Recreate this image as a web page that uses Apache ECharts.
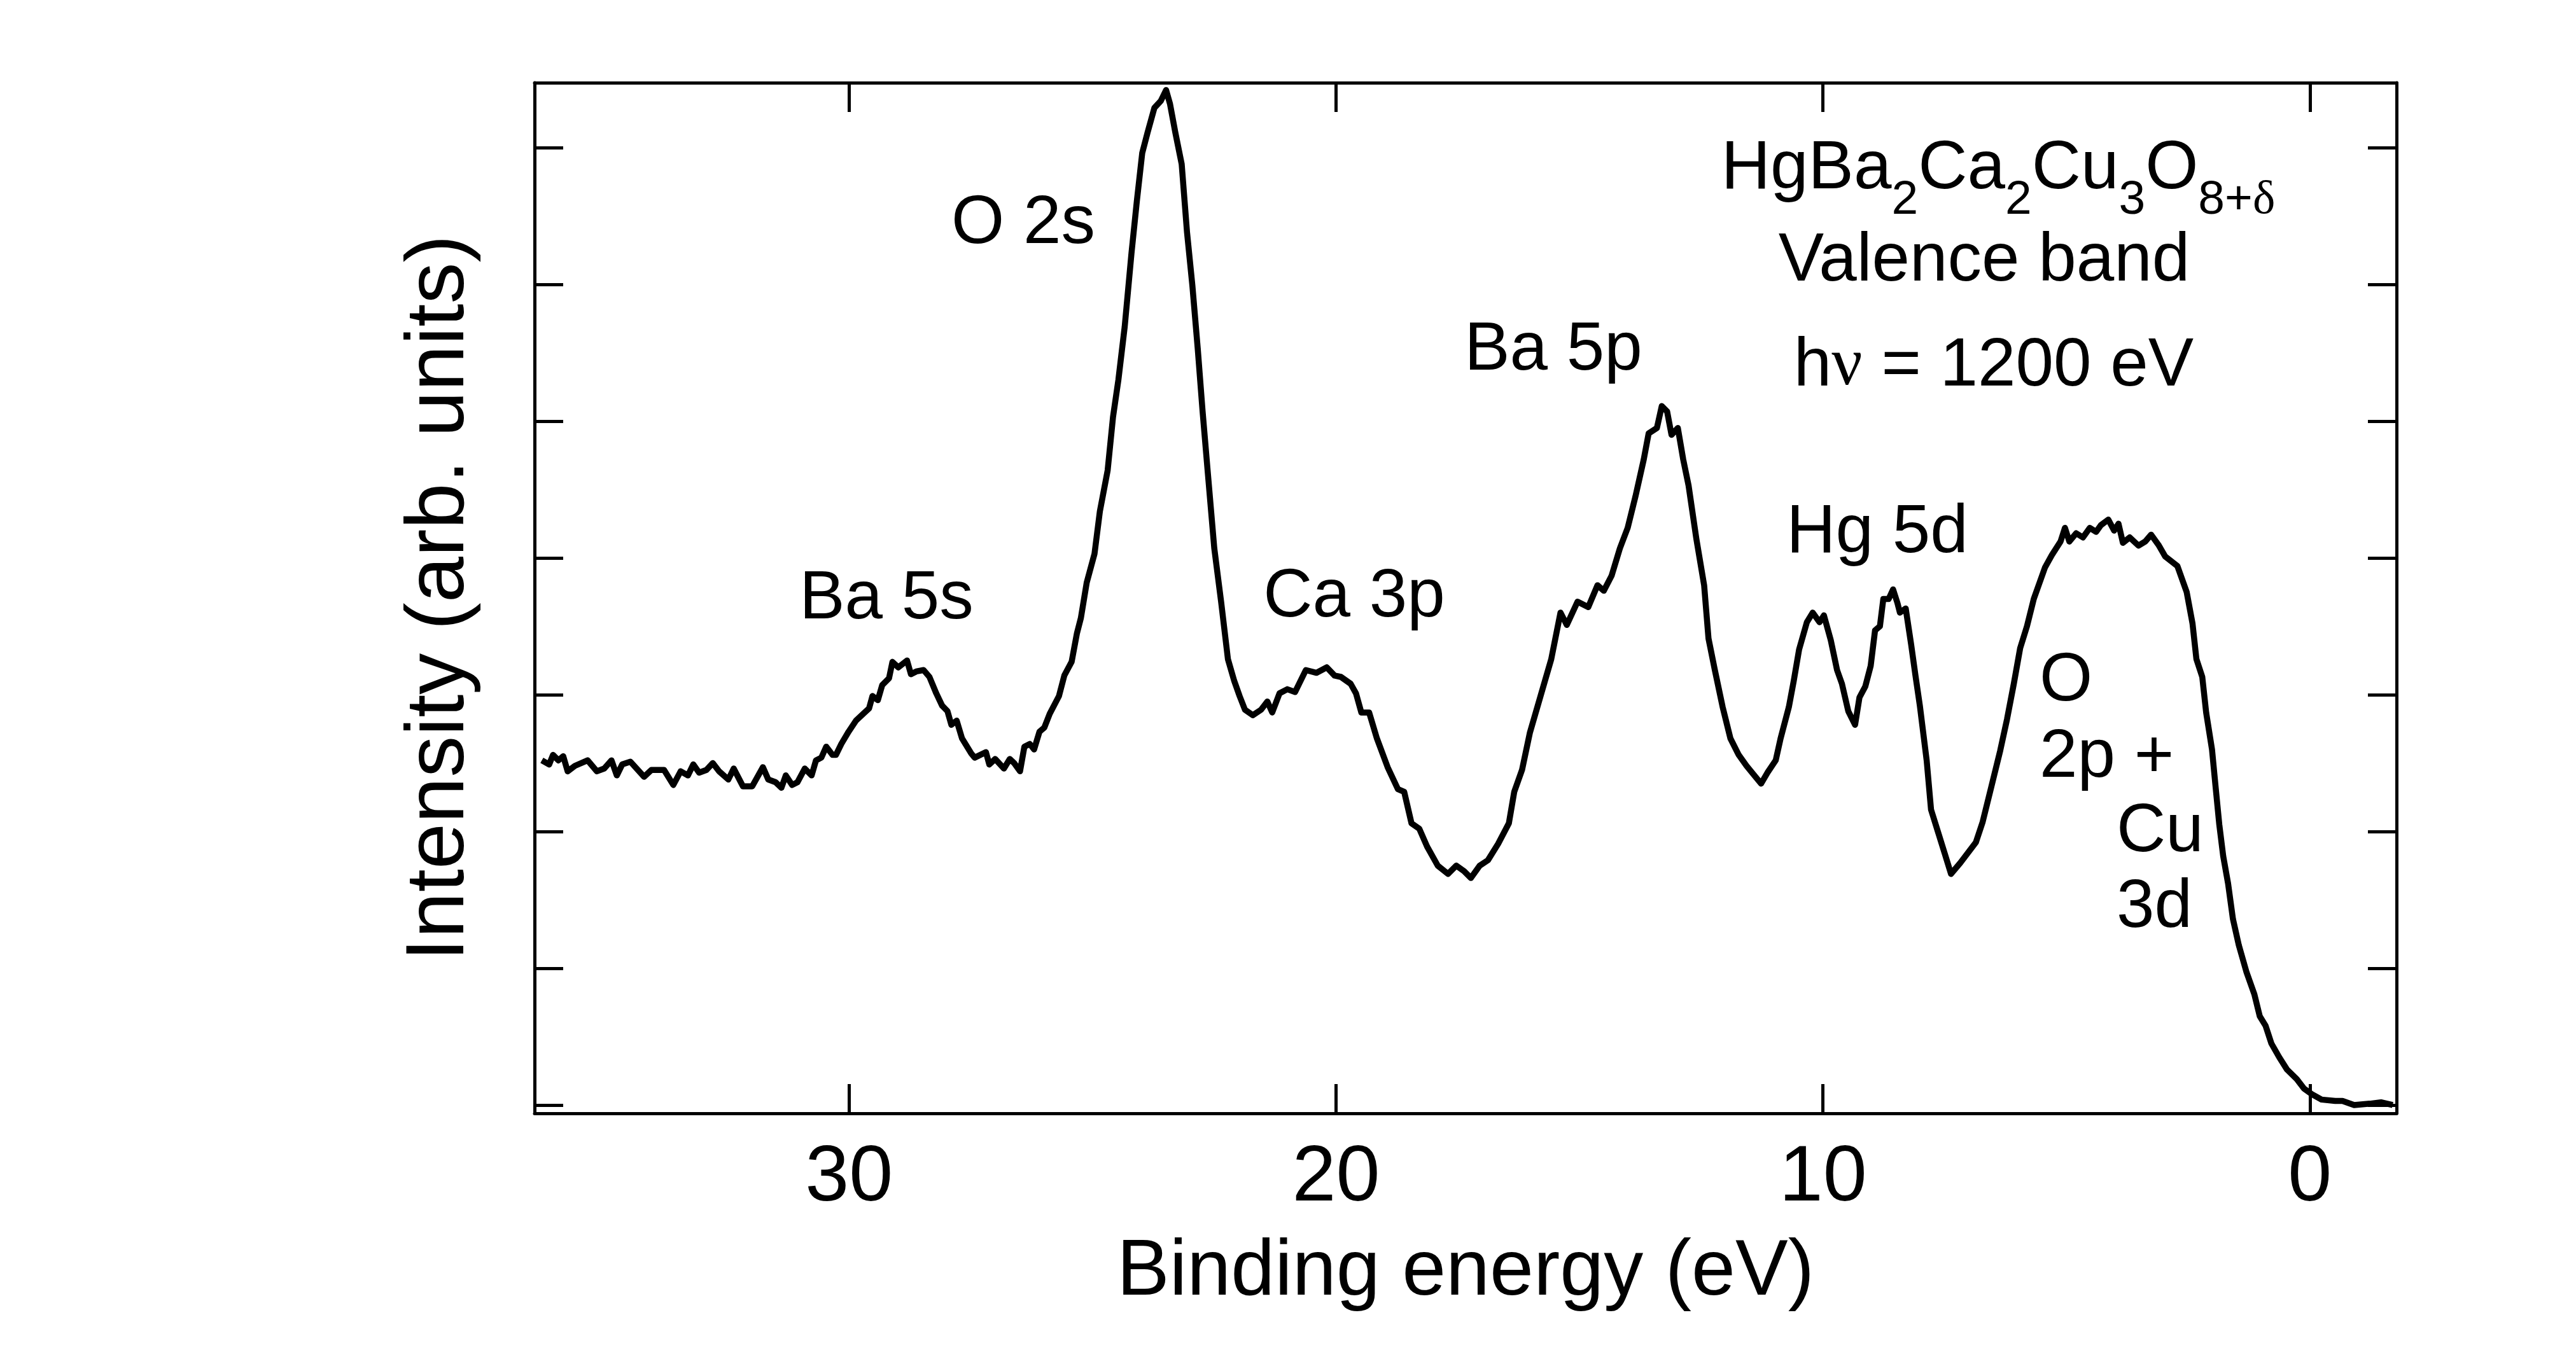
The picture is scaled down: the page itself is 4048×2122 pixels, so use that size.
<!DOCTYPE html>
<html>
<head>
<meta charset="utf-8">
<title>HgBa2Ca2Cu3O8+d valence band</title>
<script src="https://cdn.jsdelivr.net/npm/echarts@6/dist/echarts.min.js"></script>
<style>
    html, body {margin: 0; padding: 0; background: #fff;}
    #chart {width: 4048px; height: 2122px;}
</style>
</head>
<body>
<div id="chart"></div>
<script>
var energy = [
    36.31, 36.16, 36.08, 35.97, 35.87, 35.78, 35.63, 35.37, 35.18, 35.03,
    34.88, 34.77, 34.66, 34.49, 34.21, 34.06, 33.80, 33.61, 33.46, 33.31,
    33.20, 33.08, 32.93, 32.80, 32.67, 32.48, 32.37, 32.18, 31.99, 31.77,
    31.66, 31.51, 31.39, 31.30, 31.17, 31.06, 30.91, 30.77, 30.68, 30.57,
    30.47, 30.34, 30.27, 30.16, 30.01, 29.86, 29.71, 29.59, 29.52, 29.41,
    29.32, 29.18, 29.11, 28.99, 28.81, 28.73, 28.62, 28.47, 28.35, 28.21,
    28.09, 27.98, 27.90, 27.79, 27.68, 27.49, 27.42, 27.19, 27.12, 27.00,
    26.82, 26.70, 26.61, 26.49, 26.40, 26.29, 26.20, 26.09, 25.99, 25.88,
    25.69, 25.58, 25.43, 25.32, 25.24, 25.12, 24.96, 24.85, 24.69, 24.58,
    24.47, 24.34, 24.20, 24.09, 23.98, 23.87, 23.73, 23.60, 23.49, 23.41,
    23.30, 23.17, 23.06, 22.95, 22.84, 22.74, 22.63, 22.50, 22.36, 22.22,
    22.09, 21.98, 21.87, 21.71, 21.54, 21.41, 21.31, 21.16, 21.00, 20.84,
    20.62, 20.40, 20.19, 20.03, 19.90, 19.70, 19.59, 19.48, 19.32, 19.16,
    18.94, 18.73, 18.60, 18.45, 18.29, 18.13, 17.91, 17.70, 17.53, 17.37,
    17.23, 17.05, 16.88, 16.67, 16.45, 16.34, 16.18, 16.02, 15.80, 15.58,
    15.39, 15.26, 15.04, 14.82, 14.63, 14.50, 14.34, 14.17, 14.01, 13.85,
    13.68, 13.58, 13.41, 13.31, 13.20, 13.11, 12.98, 12.87, 12.76, 12.60,
    12.44, 12.35, 12.22, 12.06, 11.90, 11.73, 11.57, 11.41, 11.27, 11.14,
    10.97, 10.87, 10.70, 10.60, 10.49, 10.33, 10.21, 10.07, 9.98, 9.84,
    9.71, 9.61, 9.48, 9.34, 9.25, 9.13, 9.02, 8.93, 8.83, 8.76,
    8.65, 8.56, 8.47, 8.42, 8.30, 8.19, 8.10, 8.01, 7.87, 7.78,
    7.64, 7.50, 7.37, 7.18, 6.86, 6.72, 6.54, 6.36, 6.22, 6.08,
    5.95, 5.81, 5.67, 5.44, 5.30, 5.12, 5.03, 4.94, 4.80, 4.66,
    4.52, 4.39, 4.29, 4.14, 4.02, 3.93, 3.84, 3.70, 3.52, 3.38,
    3.26, 3.10, 2.97, 2.72, 2.53, 2.41, 2.33, 2.21, 2.13, 2.01,
    1.94, 1.86, 1.78, 1.68, 1.58, 1.46, 1.30, 1.14, 1.03, 0.91,
    0.79, 0.63, 0.47, 0.27, 0.12, -0.04, -0.24, -0.52, -0.67, -0.91,
    -1.23, -1.46, -1.70
];
// intensity (arb. units, one unit per tick)
var intensity = [
    2.52, 2.49, 2.56, 2.52, 2.55, 2.44, 2.48, 2.52, 2.44, 2.46,
    2.52, 2.41, 2.49, 2.51, 2.40, 2.45, 2.45, 2.34, 2.44, 2.41,
    2.49, 2.43, 2.45, 2.50, 2.44, 2.38, 2.46, 2.33, 2.33, 2.47,
    2.38, 2.36, 2.32, 2.41, 2.34, 2.36, 2.46, 2.41, 2.52, 2.54,
    2.62, 2.56, 2.56, 2.64, 2.73, 2.81, 2.86, 2.90, 2.99, 2.96,
    3.07, 3.12, 3.24, 3.20, 3.25, 3.15, 3.17, 3.18, 3.13, 3.01,
    2.92, 2.88, 2.78, 2.81, 2.68, 2.57, 2.54, 2.58, 2.49, 2.53,
    2.46, 2.53, 2.50, 2.44, 2.62, 2.64, 2.60, 2.73, 2.76, 2.86,
    2.99, 3.14, 3.24, 3.45, 3.56, 3.82, 4.03, 4.34, 4.64, 5.03,
    5.30, 5.69, 6.23, 6.61, 6.96, 7.11, 7.29, 7.34, 7.42, 7.32,
    7.11, 6.88, 6.38, 5.99, 5.53, 5.07, 4.61, 4.07, 3.68, 3.26,
    3.10, 2.99, 2.89, 2.85, 2.89, 2.95, 2.87, 3.01, 3.04, 3.02,
    3.18, 3.16, 3.20, 3.14, 3.13, 3.08, 3.01, 2.87, 2.87, 2.68,
    2.47, 2.31, 2.29, 2.06, 2.02, 1.89, 1.75, 1.69, 1.75, 1.71,
    1.66, 1.75, 1.79, 1.91, 2.06, 2.29, 2.45, 2.72, 2.99, 3.26,
    3.60, 3.51, 3.68, 3.64, 3.80, 3.76, 3.87, 4.07, 4.22, 4.45,
    4.72, 4.91, 4.95, 5.11, 5.07, 4.90, 4.95, 4.72, 4.53, 4.14,
    3.80, 3.41, 3.18, 2.91, 2.68, 2.56, 2.48, 2.41, 2.35, 2.43,
    2.52, 2.68, 2.91, 3.10, 3.33, 3.53, 3.60, 3.53, 3.58, 3.40,
    3.18, 3.08, 2.88, 2.78, 2.98, 3.06, 3.21, 3.47, 3.50, 3.70,
    3.70, 3.77, 3.67, 3.60, 3.63, 3.37, 3.14, 2.92, 2.52, 2.16,
    2.00, 1.84, 1.69, 1.77, 1.92, 2.07, 2.33, 2.59, 2.82, 3.08,
    3.34, 3.50, 3.70, 3.93, 4.02, 4.12, 4.22, 4.12, 4.18, 4.15,
    4.22, 4.19, 4.24, 4.28, 4.20, 4.25, 4.11, 4.15, 4.09, 4.12,
    4.17, 4.09, 4.01, 3.94, 3.75, 3.52, 3.26, 3.13, 2.87, 2.60,
    2.34, 2.05, 1.82, 1.62, 1.36, 1.17, 0.97, 0.81, 0.65, 0.58,
    0.45, 0.35, 0.26, 0.19, 0.12, 0.08, 0.04, 0.03, 0.03, 0.00,
    0.01, 0.02, 0.00
];
var xTicks = [0, 10, 20, 30];
var yTicks = [0, 1, 2, 3, 4, 5, 6, 7];

// peak labels
var peakLabels = [
    {text: 'O 2s', x: 1608, y: 352, align: 'center'},
    {text: 'Ba 5s', x: 1393, y: 942, align: 'center'},
    {text: 'Ca 3p', x: 2128, y: 939, align: 'center'},
    {text: 'Ba 5p', x: 2441, y: 551, align: 'center'},
    {text: 'Hg 5d', x: 2950, y: 838, align: 'center'},
    {text: 'O', x: 3205, y: 1071, align: 'left'},
    {text: '2p +', x: 3205, y: 1191, align: 'left'},
    {text: 'Cu', x: 3326, y: 1308, align: 'left'},
    {text: '3d', x: 3326, y: 1427, align: 'left'}
];
// formula pieces: [text, subscript?, serif?]
var formula = [
    ['HgBa', false, false], ['2', true, false], ['Ca', false, false], ['2', true, false],
    ['Cu', false, false], ['3', true, false], ['O', false, false], ['8+', true, false],
    ['δ', true, true]
];

var FONT = '"Liberation Sans", Arial, sans-serif';
var SERIF = '"Liberation Serif", "Times New Roman", serif';

$init();

// lay the formula out piece by piece so subscripts sit below the baseline
function formulaGraphics(cx, baseline) {
    var ctx = document.createElement('canvas').getContext('2d');
    var items = [];
    var total = 0;
    formula.forEach(function (p) {
        var size = p[1] ? 75 : 107;
        var fam = p[2] ? SERIF : FONT;
        ctx.font = size + 'px ' + fam;
        var w = ctx.measureText(p[0]).width;
        items.push({text: p[0], size: size, fam: fam, sub: p[1], w: w});
        total += w;
    });
    var x = cx - total / 2;
    return items.map(function (it) {
        var g = {
            type: 'text', x: x, y: it.sub ? baseline + 33 : baseline,
            style: {text: it.text, fontSize: it.size, fontFamily: it.fam, fill: '#000',
                align: 'left', verticalAlign: 'bottom'}
        };
        x += it.w;
        return g;
    });
}

function $init() {
    var myChart = echarts.init(document.getElementById('chart'));
    var points = [];
    for (var i = 0; i < energy.length; i++) {
        points.push([energy[i], intensity[i]]);
    }

    var xBase = {
        type: 'value',
        inverse: true,
        min: -1.78,
        max: 36.46,
        axisLine: {show: true, onZero: false, lineStyle: {color: '#000', width: 5}},
        axisTick: {show: true, inside: true, length: 46, customValues: xTicks,
            lineStyle: {color: '#000', width: 5}},
        splitLine: {show: false}
    };
    var yBase = {
        type: 'value',
        min: -0.0605,
        max: 7.474,
        axisLine: {show: true, onZero: false, lineStyle: {color: '#000', width: 5}},
        axisTick: {show: true, inside: true, length: 45, customValues: yTicks,
            lineStyle: {color: '#000', width: 5}},
        axisLabel: {show: false},
        splitLine: {show: false}
    };

    var graphics = peakLabels.map(function (l) {
        return {
            type: 'text', x: l.x, y: l.y,
            style: {text: l.text, fontSize: 107, fontFamily: FONT, fill: '#000',
                align: l.align, verticalAlign: 'middle'}
        };
    });
    // 'bottom' puts the text box bottom ~0.19 em under the baseline
    graphics = graphics.concat(formulaGraphics(3140, 300 + 20));
    graphics.push({
        type: 'text', x: 3118, y: 411,
        style: {text: 'Valence band', fontSize: 107, fontFamily: FONT, fill: '#000',
            align: 'center', verticalAlign: 'middle'}
    });
    graphics.push({
        type: 'text', x: 3133, y: 576,
        style: {
            text: '{m|h}{n|ν}{m| = 1200 eV}',
            align: 'center', verticalAlign: 'middle',
            rich: {
                m: {fontSize: 107, fontFamily: FONT, fill: '#000'},
                n: {fontSize: 107, fontFamily: SERIF, fill: '#000'}
            }
        }
    });

    var option = {
        backgroundColor: '#fff',
        animation: false,
        grid: {left: 840, right: 282, top: 130, bottom: 372},
        xAxis: [
            Object.assign({}, xBase, {
                position: 'bottom',
                axisLabel: {show: true, customValues: xTicks, fontSize: 124,
                    fontFamily: FONT, color: '#000', margin: 41},
                name: 'Binding energy (eV)',
                nameLocation: 'middle',
                nameGap: 189,
                nameTextStyle: {fontSize: 124, fontFamily: FONT, color: '#000'}
            }),
            Object.assign({}, xBase, {position: 'top', axisLabel: {show: false}})
        ],
        yAxis: [
            Object.assign({}, yBase, {
                position: 'left',
                name: 'Intensity (arb. units)',
                nameLocation: 'middle',
                nameGap: 83,
                nameTextStyle: {fontSize: 130, fontFamily: FONT, color: '#000'}
            }),
            Object.assign({}, yBase, {position: 'right'})
        ],
        graphic: graphics,
        series: [{
            type: 'line',
            data: points,
            showSymbol: false,
            symbol: 'none',
            smooth: false,
            lineStyle: {color: '#000', width: 9.5, join: 'round'}
        }]
    };
    myChart.setOption(option);
}
</script>
</body>
</html>
